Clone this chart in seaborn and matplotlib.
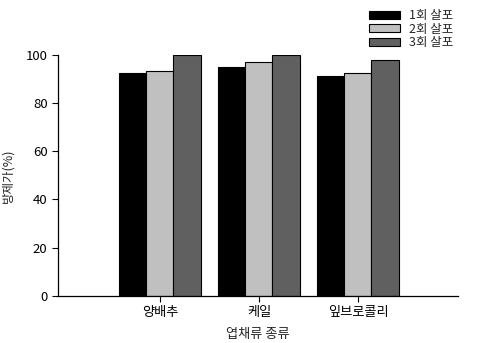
import matplotlib
matplotlib.use("Agg")
import matplotlib.pyplot as plt
import seaborn as sns
import pandas as pd

categories = ["양배추", "케일", "잎브로콜리"]
series = ["1회 살포", "2회 살포", "3회 살포"]
values_1 = [92.3, 94.9, 91.0]
values_2 = [93.2, 97.0, 92.4]
values_3 = [100.0, 99.7, 97.7]
colors = ["#000000", "#c0c0c0", "#606060"]

sns.set_style("ticks")
plt.rcParams['font.family'] = ['Noto Sans CJK KR', 'DejaVu Sans']

rows = []
for s, vals in zip(series, [values_1, values_2, values_3]):
    for c, v in zip(categories, vals):
        rows.append({"cat": c, "series": s, "value": v})
df = pd.DataFrame(rows)

fig = plt.figure(figsize=(4.81, 3.43), dpi=100)
ax = fig.add_axes([0.1206, 0.137, 0.8314, 0.7035])
sns.barplot(data=df, x="cat", y="value", hue="series", order=categories,
            hue_order=series, palette=colors, width=0.82, saturation=1,
            edgecolor="black", linewidth=0.8, ax=ax)

ax.set_xlim(-1.03, 3.01)
ax.set_ylim(0, 100)
ax.set_yticks([0, 20, 40, 60, 80, 100])
ax.tick_params(axis="both", labelsize=9.5, length=4, width=0.8, colors="black")
ax.set_xlabel("엽채류 종류", fontsize=9.5, labelpad=6)
ax.set_ylabel("방제가(%)", fontsize=9, labelpad=8)
for sp in ["top", "right"]:
    ax.spines[sp].set_visible(False)
for sp in ["left", "bottom"]:
    ax.spines[sp].set_linewidth(0.9)
    ax.spines[sp].set_color("black")

leg = ax.legend(loc="upper right", bbox_to_anchor=(1.0, 1.21), frameon=False,
                fontsize=9, handlelength=2.5, handleheight=0.6,
                labelspacing=0.05, handletextpad=0.7, borderaxespad=0)
fig.savefig("out.png", dpi=100)
